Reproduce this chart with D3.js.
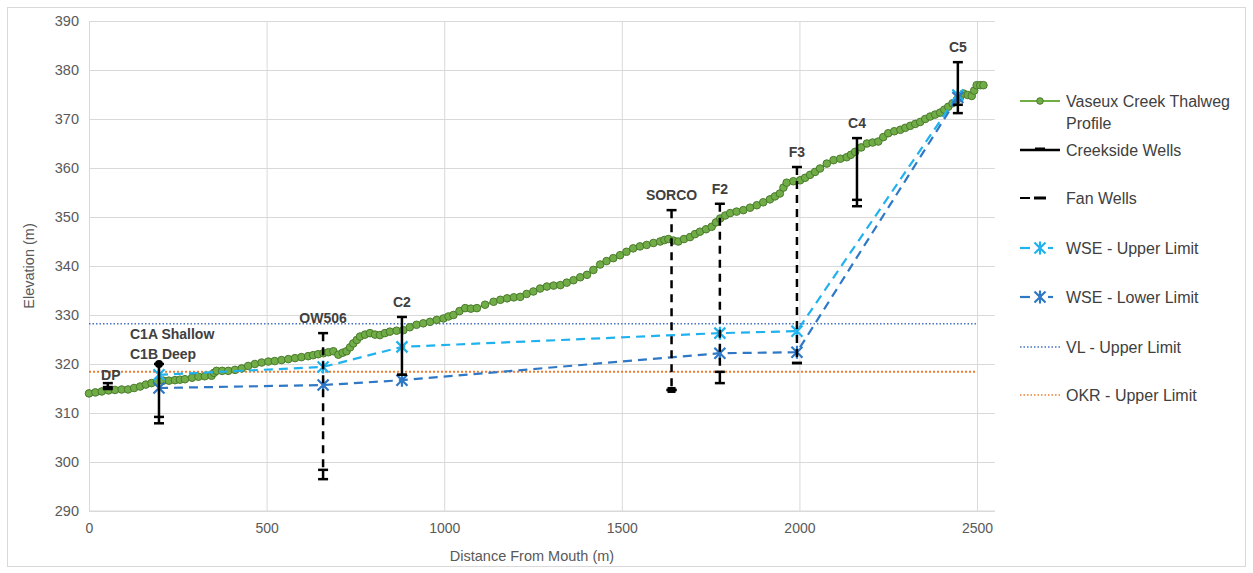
<!DOCTYPE html>
<html><head><meta charset="utf-8">
<script src="https://cdn.jsdelivr.net/npm/d3@7"></script>
<style>
html,body{margin:0;padding:0;background:#fff;}
svg{display:block;font-family:"Liberation Sans",Arial,sans-serif;}
</style></head>
<body>
<svg id="chart" width="1253" height="573"></svg>
<script>
// ---------- DATA ----------
const profileDist = [0,18,36,55,73,92,110,127,144,160,176,192,209,225,242,256,270,290,308,326,345,352,359,375,392,411,430,448,467,486,505,523,542,561,580,598,617,631,645,660,674,688,702,714,725,735,744,754,763,777,791,805,819,833,847,866,885,903,922,941,960,979,998,1012,1026,1043,1059,1075,1092,1115,1139,1158,1177,1196,1214,1232,1251,1270,1289,1308,1327,1345,1364,1383,1402,1420,1439,1457,1476,1495,1513,1532,1551,1570,1589,1608,1620,1631,1645,1659,1675,1692,1706,1720,1737,1753,1765,1777,1791,1805,1823,1842,1861,1880,1898,1917,1931,1945,1955,1964,1983,2002,2016,2030,2044,2058,2077,2096,2115,2133,2145,2157,2174,2190,2206,2222,2236,2250,2267,2284,2298,2312,2326,2340,2354,2368,2382,2396,2408,2419,2431,2443,2453,2462,2474,2485,2492,2499,2509,2518];
const profileElev = [314.0,314.2,314.4,314.6,314.7,314.8,314.8,315.1,315.4,315.8,316.1,316.4,316.6,316.6,316.7,316.8,316.9,317.2,317.4,317.5,317.6,318.2,318.6,318.6,318.6,318.8,319.1,319.6,320.0,320.3,320.5,320.6,320.8,321.0,321.2,321.4,321.6,321.8,322.0,322.2,322.4,322.6,321.9,322.3,322.6,323.4,324.2,324.9,325.6,326.0,326.3,326.0,325.9,326.3,326.6,326.8,326.9,327.5,328.0,328.3,328.6,329.0,329.3,329.7,330.0,330.8,331.4,331.3,331.4,332.1,332.7,333.1,333.4,333.6,333.7,334.3,334.8,335.4,335.8,336.0,336.1,336.6,337.1,337.7,338.2,339.2,340.3,341.0,341.6,342.2,342.9,343.6,344.0,344.3,344.7,345.0,345.3,345.5,345.2,345.0,345.5,345.9,346.5,347.0,347.5,348.0,348.9,349.7,350.3,350.8,351.1,351.4,351.9,352.4,353.0,353.6,354.2,354.8,356.0,357.0,357.3,357.5,358.0,358.6,359.2,359.9,360.9,361.6,361.9,362.2,362.7,363.3,364.2,365.0,365.2,365.4,366.3,367.1,367.5,367.8,368.2,368.6,369.0,369.4,370.0,370.5,370.9,371.3,371.9,372.5,373.2,373.9,374.6,375.2,374.9,374.7,375.8,376.9,376.9,376.9];

const wellNames  = ["DP","C1","OW506","C2","SORCO","F2","F3","C4","C5"];
const wellDist   = [53,197,659,881,1640,1776,1993,2162,2446];
const wellTop    = [316.1,320.0,326.3,329.6,351.4,352.7,360.2,366.1,381.6];
const wellScrTop = [315.3,309.2,298.4,317.8,314.7,318.4,320.2,353.5,372.9];
const wellBottom = [314.9,307.9,296.5,317.8,314.7,316.1,320.2,352.2,371.2];
const wellType   = ["creek","creek","fan","creek","fan","fan","fan","creek","creek"];

const wseDist  = [197,659,881,1776,1993,2446];
const wseUpper = [317.8,319.4,323.5,326.3,326.7,374.9];
const wseLower = [315.1,315.7,316.7,322.2,322.4,374.4];

const vlLimit = 328.2;
const okrLimit = 318.4;
const limitRange = [0,2500];

const xTicks = [0,500,1000,1500,2000,2500];
const yTicks = [290,300,310,320,330,340,350,360,370,380,390];

const legendLabels = [["Vaseux Creek Thalweg","Profile"],["Creekside Wells"],["Fan Wells"],["WSE - Upper Limit"],["WSE - Lower Limit"],["VL - Upper Limit"],["OKR - Upper Limit"]];

// ---------- STYLE ----------
const C = {grid:"#D9D9D9", tick:"#595959", green:"#70AD47", greenDark:"#4A7A2C",
  up:"#1FB2EE", low:"#2E78C6", vl:"#4472C4", okr:"#ED7D31", text:"#404040"};

const svg = d3.select("#chart");
svg.append("rect").attr("x",7.5).attr("y",7.5).attr("width",1238).attr("height",559)
  .attr("fill","#fff").attr("stroke",C.grid);

const x = d3.scaleLinear().domain([0,2550]).range([89,994.8]);
const y = d3.scaleLinear().domain([290,390]).range([511,21]);

// gridlines
const gAxY = svg.append("g").attr("transform","translate(89,0)")
  .call(d3.axisLeft(y).tickValues(yTicks).tickSize(-(994.8-89)).tickFormat(d3.format("d")).tickPadding(10));
gAxY.select(".domain").remove();
gAxY.selectAll("line").attr("stroke",C.grid);
gAxY.selectAll("text").attr("fill",C.tick).attr("font-size",14.5);

const gAxX = svg.append("g").attr("transform","translate(0,511)")
  .call(d3.axisBottom(x).tickValues(xTicks).tickSize(-490).tickFormat(d3.format("d")).tickPadding(12));
gAxX.select(".domain").remove();
gAxX.selectAll("line").attr("stroke",C.grid);
gAxX.selectAll("text").attr("fill",C.tick).attr("font-size",14);
svg.append("line").attr("x1",89).attr("x2",994.8).attr("y1",511).attr("y2",511).attr("stroke",C.grid);

// axis titles
svg.append("text").attr("transform","translate(34,266) rotate(-90)").attr("text-anchor","middle")
  .attr("fill",C.tick).attr("font-size",14.5).text("Elevation (m)");
svg.append("text").attr("x",532).attr("y",561).attr("text-anchor","middle")
  .attr("fill",C.tick).attr("font-size",14.5).text("Distance From Mouth (m)");

// limit lines
svg.append("line").attr("x1",x(limitRange[0])).attr("x2",x(limitRange[1])).attr("y1",y(vlLimit)).attr("y2",y(vlLimit))
  .attr("stroke",C.vl).attr("stroke-width",1.5).attr("stroke-dasharray","1.5,2");
svg.append("line").attr("x1",x(limitRange[0])).attr("x2",x(limitRange[1])).attr("y1",y(okrLimit)).attr("y2",y(okrLimit))
  .attr("stroke",C.okr).attr("stroke-width",2).attr("stroke-dasharray","2,2");

// profile
const prof = profileDist.map((d,i)=>[d,profileElev[i]]);
svg.append("path").datum(prof).attr("fill","none").attr("stroke",C.green).attr("stroke-width",2)
  .attr("d",d3.line().x(d=>x(d[0])).y(d=>y(d[1])));
svg.append("g").selectAll("circle").data(prof).join("circle")
  .attr("cx",d=>x(d[0])).attr("cy",d=>y(d[1])).attr("r",3.8)
  .attr("fill",C.green).attr("stroke",C.greenDark).attr("stroke-width",1);

// WSE
function star(g, cx, cy, col){
  const s=5.5;
  g.append("path").attr("d",`M${cx-s},${cy-s}L${cx+s},${cy+s}M${cx-s},${cy+s}L${cx+s},${cy-s}M${cx},${cy-s-1}L${cx},${cy+s+1}`)
   .attr("stroke",col).attr("stroke-width",2.2).attr("fill","none");
}
function wse(vals, col){
  const pts = wseDist.map((d,i)=>[d,vals[i]]);
  const g = svg.append("g");
  g.append("path").datum(pts).attr("fill","none").attr("stroke",col).attr("stroke-width",2.2)
   .attr("stroke-dasharray","9,6").attr("d",d3.line().x(d=>x(d[0])).y(d=>y(d[1])));
  pts.forEach(p=>star(g,x(p[0]),y(p[1]),col));
}
wse(wseUpper, C.up);
wse(wseLower, C.low);

// wells
const gw = svg.append("g");
wellNames.forEach((n,i)=>{
  const cx = x(wellDist[i]);
  const dash = wellType[i]==="fan" ? "8,6" : null;
  gw.append("line").attr("x1",cx).attr("x2",cx).attr("y1",y(wellTop[i])).attr("y2",y(wellScrTop[i]))
    .attr("stroke","#000").attr("stroke-width",2.5).attr("stroke-dasharray",dash);
  gw.append("line").attr("x1",cx).attr("x2",cx).attr("y1",y(wellScrTop[i])).attr("y2",y(wellBottom[i]))
    .attr("stroke","#000").attr("stroke-width",2.5);
  const caps = [wellTop[i], wellScrTop[i], wellBottom[i]];
  caps.forEach(c=>{
    gw.append("line").attr("x1",cx-5).attr("x2",cx+5).attr("y1",y(c)).attr("y2",y(c))
      .attr("stroke","#000").attr("stroke-width",2.5);
  });
  if(n==="SORCO"){
    gw.append("rect").attr("x",cx-4).attr("y",y(wellBottom[i])-3).attr("width",8).attr("height",6).attr("fill","#000");
  }
  if(n==="C1"){
    gw.append("circle").attr("cx",cx).attr("cy",y(wellTop[i])).attr("r",4).attr("fill","#000");
  }
});
// labels
const gl = svg.append("g").attr("font-weight","bold").attr("font-size",14).attr("fill",C.text);
wellNames.forEach((n,i)=>{
  const cx = x(wellDist[i]);
  if(n==="C1"){
    gl.append("text").attr("x",130).attr("y",339).text("C1A Shallow");
    gl.append("text").attr("x",130).attr("y",359).text("C1B Deep");
  } else if(n==="DP"){
    gl.append("text").attr("x",cx+3).attr("y",y(wellTop[i])-3).attr("text-anchor","middle").text(n);
  } else {
    gl.append("text").attr("x",cx).attr("y",y(wellTop[i])-10).attr("text-anchor","middle").text(n);
  }
});

// legend
const legY = [101,150,198,248,297,347,395];
const gL = svg.append("g").attr("font-size",16).attr("fill",C.text);
legendLabels.forEach((lab,i)=>{
  const yy = legY[i];
  lab.forEach((t,j)=>gL.append("text").attr("x",1066).attr("y",yy+5.5+j*22).text(t));
});
const L = (y0,col,w,dash)=>svg.append("line").attr("x1",1020).attr("x2",1060).attr("y1",y0).attr("y2",y0)
  .attr("stroke",col).attr("stroke-width",w).attr("stroke-dasharray",dash);
L(legY[0],C.green,2,null);
svg.append("circle").attr("cx",1040).attr("cy",legY[0]).attr("r",3.3).attr("fill",C.green).attr("stroke",C.greenDark);
L(legY[1],"#000",2.5,null);
svg.append("line").attr("x1",1035).attr("x2",1045).attr("y1",legY[1]-1.5).attr("y2",legY[1]-1.5).attr("stroke","#000").attr("stroke-width",2);
svg.append("line").attr("x1",1020).attr("x2",1030).attr("y1",legY[2]).attr("y2",legY[2]).attr("stroke","#000").attr("stroke-width",2);
svg.append("line").attr("x1",1034).attr("x2",1046).attr("y1",legY[2]).attr("y2",legY[2]).attr("stroke","#000").attr("stroke-width",3);
[[legY[3],C.up],[legY[4],C.low]].forEach(([yy,col])=>{
  svg.append("line").attr("x1",1020).attr("x2",1030).attr("y1",yy).attr("y2",yy).attr("stroke",col).attr("stroke-width",2.2);
  svg.append("line").attr("x1",1048).attr("x2",1053).attr("y1",yy).attr("y2",yy).attr("stroke",col).attr("stroke-width",2.2);
  star(svg,1040,yy,col);
});
L(legY[5],C.vl,1.5,"1.5,2");
L(legY[6],C.okr,1.5,"1.5,2");
</script>
</body></html>
